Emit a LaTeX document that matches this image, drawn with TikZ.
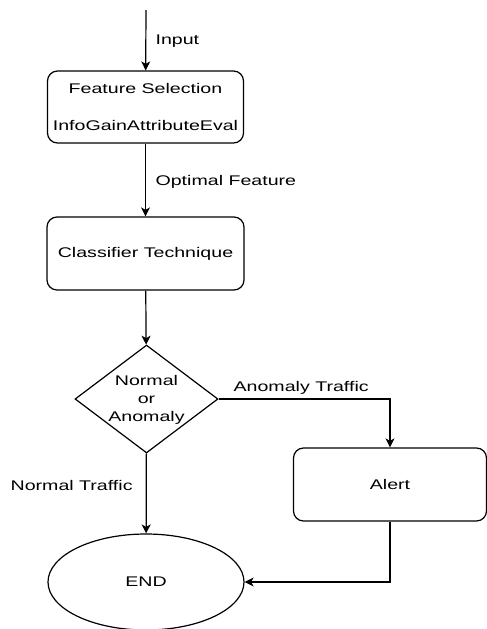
\documentclass[tikz,border=0pt]{standalone}
\usepackage{fontspec}
\setmainfont{Liberation Sans}[FakeStretch=1.4]
\usetikzlibrary{shapes.geometric,arrows.meta}
\begin{document}
\begin{tikzpicture}[x=1pt,y=-1pt,
  font=\fontsize{14}{18}\selectfont,
  line width=1.2pt,
  arr/.style={-{Stealth[length=9pt,width=9pt,inset=2.5pt]}},
  procbox/.style={draw,rounded corners=10pt,inner sep=0pt,align=center},
  lbl/.style={anchor=west,inner sep=0pt}]
\useasboundingbox (0,0) rectangle (487,629);
\coordinate (start) at (146,10);
\node[procbox,minimum width=196pt,minimum height=72pt] (fs) at (145.5,107)
  {Feature Selection\\[19pt]InfoGainAttributeEval};
\node[procbox,minimum width=197pt,minimum height=73pt] (cl) at (145.5,253.5)
  {Classifier Technique};
\node[draw,diamond,minimum width=143pt,minimum height=108pt,inner sep=0pt] (dia) at (146.5,399) {};
\node[align=center,inner sep=0pt] (diatext) at (146.5,400) {Normal\\or\\Anomaly};
\node[procbox,minimum width=193pt,minimum height=73pt] (alert) at (390,484.5) {Alert};
\node[draw,ellipse,minimum width=196pt,minimum height=96pt,inner sep=0pt] (end) at (146,582) {END};

\draw[arr] (start) -- (fs);
\draw[arr] (fs) -- (cl);
\draw[arr] (cl) -- (dia);
\draw[arr] (dia.east) -| (alert);
\draw[arr] (dia) -- (end);
\draw[arr] (alert) |- (end.east);

\node[lbl] (linput) at (155,41) {Input};
\node[lbl] (lopt) at (155,182) {Optimal Feature};
\node[lbl] (lanom) at (233,388) {Anomaly Traffic};
\node[lbl] (lnorm) at (10,485) {Normal Traffic};
\end{tikzpicture}
\end{document}
